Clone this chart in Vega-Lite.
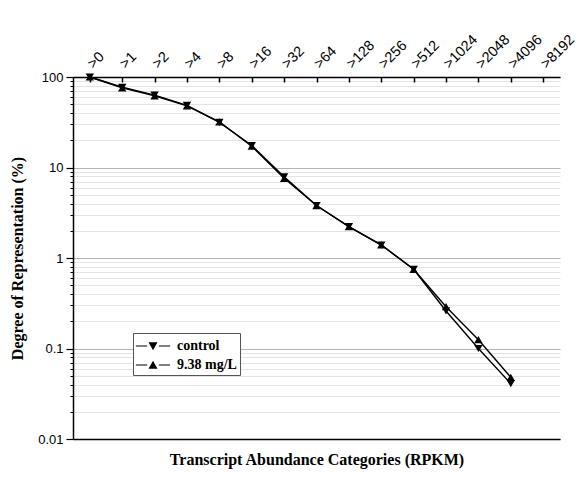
{
  "$schema": "https://vega.github.io/schema/vega-lite/v6.json",
  "width": 487,
  "height": 362,
  "autosize": "none",
  "padding": {"left": 73, "top": 77, "right": 27, "bottom": 39},
  "background": "white",
  "config": {
    "view": {"stroke": null},
    "axis": {"labelFont": "Liberation Sans", "labelFontSize": 13, "labelColor": "black", "titleFont": "Liberation Serif", "titleFontWeight": "bold", "titleFontSize": 16, "titleColor": "black", "domainColor": "black", "tickColor": "black"}
  },
  "data": {"values": [
    {"cat": ">0", "series": "control", "value": 100},
    {"cat": ">1", "series": "control", "value": 77},
    {"cat": ">2", "series": "control", "value": 63},
    {"cat": ">4", "series": "control", "value": 48.5},
    {"cat": ">8", "series": "control", "value": 31.5},
    {"cat": ">16", "series": "control", "value": 17.5},
    {"cat": ">32", "series": "control", "value": 7.9},
    {"cat": ">64", "series": "control", "value": 3.8},
    {"cat": ">128", "series": "control", "value": 2.22},
    {"cat": ">256", "series": "control", "value": 1.39},
    {"cat": ">512", "series": "control", "value": 0.75},
    {"cat": ">1024", "series": "control", "value": 0.26},
    {"cat": ">2048", "series": "control", "value": 0.1},
    {"cat": ">4096", "series": "control", "value": 0.041},
    {"cat": ">0", "series": "9.38 mg/L", "value": 100},
    {"cat": ">1", "series": "9.38 mg/L", "value": 76},
    {"cat": ">2", "series": "9.38 mg/L", "value": 62},
    {"cat": ">4", "series": "9.38 mg/L", "value": 48},
    {"cat": ">8", "series": "9.38 mg/L", "value": 32},
    {"cat": ">16", "series": "9.38 mg/L", "value": 17.2},
    {"cat": ">32", "series": "9.38 mg/L", "value": 7.6},
    {"cat": ">64", "series": "9.38 mg/L", "value": 3.8},
    {"cat": ">128", "series": "9.38 mg/L", "value": 2.22},
    {"cat": ">256", "series": "9.38 mg/L", "value": 1.4},
    {"cat": ">512", "series": "9.38 mg/L", "value": 0.75},
    {"cat": ">1024", "series": "9.38 mg/L", "value": 0.29},
    {"cat": ">2048", "series": "9.38 mg/L", "value": 0.125},
    {"cat": ">4096", "series": "9.38 mg/L", "value": 0.048}
  ]},
  "layer": [
    {
      "mark": {"type": "line", "color": "black", "strokeWidth": 1.4},
      "encoding": {
        "x": {"field": "cat", "type": "ordinal", "sort": null,
          "scale": {"type": "point", "padding": 0.52, "domain": [">0", ">1", ">2", ">4", ">8", ">16", ">32", ">64", ">128", ">256", ">512", ">1024", ">2048", ">4096", ">8192"]},
          "axis": {"orient": "top", "title": null, "labelAngle": -45, "labelAlign": "left", "labelBaseline": "middle", "labelFontSize": 14.5, "tickSize": -5, "tickWidth": 1.5, "domainWidth": 1.5, "labelPadding": 16, "grid": false}},
        "y": {"field": "value", "type": "quantitative",
          "scale": {"type": "log", "domain": [0.01, 100], "nice": false},
          "axis": {"orient": "left", "title": null, "labels": false, "values": [0.02, 0.03, 0.04, 0.05, 0.06, 0.07, 0.08, 0.09, 0.2, 0.3, 0.4, 0.5, 0.6, 0.7, 0.8, 0.9, 2, 3, 4, 5, 6, 7, 8, 9, 20, 30, 40, 50, 60, 70, 80, 90], "tickSize": 3, "tickWidth": 1, "grid": true, "gridColor": "#e4e4e4", "gridWidth": 1, "domain": false}},
        "detail": {"field": "series"}
      }
    },
    {
      "mark": {"type": "point", "filled": true, "color": "black", "size": 70, "opacity": 1},
      "encoding": {
        "x": {"field": "cat", "type": "ordinal", "sort": null,
          "axis": {"orient": "bottom", "title": "Transcript Abundance Categories (RPKM)", "labels": false, "ticks": false, "domainWidth": 1.5, "titlePadding": 12, "grid": false}},
        "y": {"field": "value", "type": "quantitative",
          "axis": {"orient": "left", "title": "Degree of Representation (%)", "values": [0.01, 0.1, 1, 10, 100], "format": "~g", "tickSize": 7, "tickWidth": 1.2, "labelPadding": 3, "grid": true, "gridColor": "#b4b4b4", "gridWidth": 1.2, "domainWidth": 1.5, "titlePadding": 12}},
        "shape": {"field": "series", "type": "nominal",
          "scale": {"domain": ["control", "9.38 mg/L"], "range": ["triangle-down", "triangle-up"]},
          "legend": null}
      }
    },
    {
      "transform": [{"filter": "datum.value < 0"}],
      "mark": {"type": "point", "filled": true, "color": "black", "opacity": 1},
      "encoding": {
        "x": {"field": "cat", "type": "ordinal", "sort": null, "axis": null},
        "y": {"field": "value", "type": "quantitative", "axis": null},
        "shape": {"field": "series", "type": "nominal",
          "scale": {"domain": ["control", "9.38 mg/L"], "range": ["M-1.9,-0.06H-0.65V0.06H-1.9ZM0.65,-0.06H1.9V0.06H0.65ZM-0.5,-0.42H0.5L0,0.46Z", "M-1.9,-0.06H-0.65V0.06H-1.9ZM0.65,-0.06H1.9V0.06H0.65ZM-0.5,0.42H0.5L0,-0.46Z"]},
          "legend": {"orient": "none", "legendX": 60, "legendY": 256, "title": null, "strokeColor": "#555", "fillColor": "white", "padding": 3,
            "labelFont": "Liberation Serif", "labelFontWeight": "bold", "labelFontSize": 14, "labelColor": "black",
            "symbolSize": 324, "symbolFillColor": "black", "symbolOffset": 7, "labelOffset": 14, "rowPadding": 1}}
      }
    }
  ],
  "resolve": {"axis": {"x": "independent", "y": "independent"}, "scale": {"shape": "independent"}}
}
